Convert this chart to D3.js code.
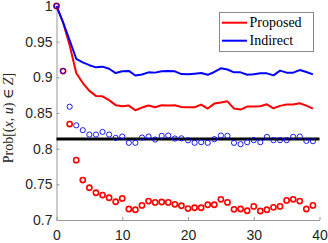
<!DOCTYPE html>
<html><head><meta charset="utf-8">
<script src="https://cdn.jsdelivr.net/npm/d3@7"></script>
<style>html,body{margin:0;padding:0;background:#fff;}svg{display:block;}</style>
</head><body>
<svg id="c" width="328" height="243"></svg>
<script>
const proposedLine = [1.0,0.977,0.945,0.906,0.892,0.881,0.874,0.8734,0.868,0.861,0.8594,0.8604,0.8538,0.8576,0.8604,0.858,0.8608,0.8604,0.8608,0.8585,0.858,0.858,0.8618,0.8562,0.8632,0.8646,0.8664,0.8562,0.8548,0.859,0.859,0.8594,0.8622,0.8566,0.86,0.8618,0.8618,0.8636,0.8604,0.8562];
const indirectLine = [1.0,0.977,0.952,0.926,0.921,0.917,0.914,0.915,0.912,0.906,0.9085,0.909,0.9025,0.904,0.907,0.9066,0.9084,0.9088,0.9084,0.9046,0.9042,0.905,0.906,0.9035,0.9075,0.9126,0.911,0.907,0.907,0.9037,0.9042,0.9056,0.9056,0.9028,0.9094,0.9066,0.9066,0.9102,0.9075,0.9042];
const proposedPts = [1.0,0.9088,0.8345,0.7839,0.756,0.7452,0.7382,0.735,0.7312,0.7256,0.7303,0.7154,0.7144,0.7205,0.7266,0.7247,0.7252,0.7247,0.722,0.720,0.716,0.7172,0.7172,0.7214,0.7214,0.729,0.7247,0.7149,0.7154,0.713,0.7191,0.7126,0.7144,0.7177,0.7191,0.7275,0.729,0.7266,0.7154,0.7205];
const indirectPts = [1.0,0.9088,0.8588,0.8327,0.8259,0.8198,0.8198,0.8235,0.8198,0.8151,0.817,0.8082,0.8082,0.8156,0.817,0.8128,0.8179,0.8184,0.8142,0.8145,0.8117,0.8082,0.8091,0.8082,0.8133,0.8184,0.818,0.8082,0.8063,0.8091,0.8119,0.8091,0.8165,0.8119,0.8119,0.8119,0.8165,0.817,0.8109,0.8105];
const threshold = 0.8135;
const xTicks = [0,10,20,30,40];
const yTicks = [0.7,0.75,0.8,0.85,0.9,0.95,1];
const yTickLabels = ["0.7","0.75","0.8","0.85","0.9","0.95","1"];
const seriesNames = ["Proposed","Indirect"];

const svg = d3.select("#c");
const L = 56.5, R = 319.5, T = 6, B = 220;
const x = d3.scaleLinear().domain([0,40]).range([L,R]);
const y = d3.scaleLinear().domain([0.7,1]).range([B,T]);
const idx = d3.range(proposedLine.length);

// axes
const axisColor = "#999";
const gx = svg.append("g").attr("transform",`translate(0,${B})`)
  .call(d3.axisBottom(x).tickValues(xTicks).tickSizeInner(-3).tickSizeOuter(0).tickPadding(10));
const gy = svg.append("g").attr("transform",`translate(${L},0)`)
  .call(d3.axisLeft(y).tickValues(yTicks).tickFormat((d,i)=>yTickLabels[i]).tickSizeInner(-3).tickSizeOuter(0).tickPadding(4));
[gx,gy].forEach(g=>{
  g.select(".domain").attr("stroke",axisColor).attr("stroke-width",1);
  g.selectAll(".tick line").attr("stroke",axisColor);
  g.selectAll(".tick text").attr("fill","#262626").style("font-family","'Liberation Sans', Arial, sans-serif").style("font-size","14px");
});
gx.selectAll(".tick text").attr("dy","0.71em");

// threshold line
svg.append("line").attr("x1",x(0)).attr("x2",x(40)).attr("y1",y(threshold)).attr("y2",y(threshold))
  .attr("stroke","#000").attr("stroke-width",3);

const line = arr => d3.line().x(i=>x(i)).y(i=>y(arr[i]))(idx);
svg.append("path").attr("d",line(proposedLine)).attr("fill","none").attr("stroke","#ff0000").attr("stroke-width",2).attr("stroke-linejoin","round");
svg.append("path").attr("d",line(indirectLine)).attr("fill","none").attr("stroke","#0000ff").attr("stroke-width",2).attr("stroke-linejoin","round");

svg.append("g").selectAll("circle").data(idx).join("circle")
  .attr("cx",i=>x(i)).attr("cy",i=>y(proposedPts[i])).attr("r",2.6)
  .attr("fill","none").attr("stroke","#ff0000").attr("stroke-width",1.6);
svg.append("g").selectAll("circle").data(idx).join("circle")
  .attr("cx",i=>x(i)).attr("cy",i=>y(indirectPts[i])).attr("r",2.6)
  .attr("fill","none").attr("stroke","#0000ff").attr("stroke-width",0.9);

// legend
const lg = svg.append("g");
lg.append("rect").attr("x",219.5).attr("y",12.5).attr("width",94).attr("height",39)
  .attr("fill","#fff").attr("stroke","#888").attr("stroke-width",1);
const legColors = ["#ff0000","#0000ff"];
seriesNames.forEach((n,k)=>{
  const yy = 22.7 + k*18;
  lg.append("line").attr("x1",222).attr("x2",247).attr("y1",yy).attr("y2",yy).attr("stroke",legColors[k]).attr("stroke-width",2);
  lg.append("text").attr("x",249.5).attr("y",yy+4.5).text(n)
    .style("font-family","'Liberation Serif','DejaVu Serif',serif").style("font-size","14px").attr("fill","#000");
});

// y label
const yl = svg.append("text").attr("transform","translate(13,118) rotate(-90)").attr("text-anchor","middle")
  .style("font-family","'Liberation Serif','DejaVu Serif',serif").style("font-size","14px").attr("fill","#262626");
yl.append("tspan").text("Prob[(");
yl.append("tspan").style("font-style","italic").text("x");
yl.append("tspan").text(", ");
yl.append("tspan").style("font-style","italic").text("u");
yl.append("tspan").text(") ∈ ");
yl.append("tspan").style("font-style","italic").text("Z");
yl.append("tspan").text("]");
</script>
</body></html>
